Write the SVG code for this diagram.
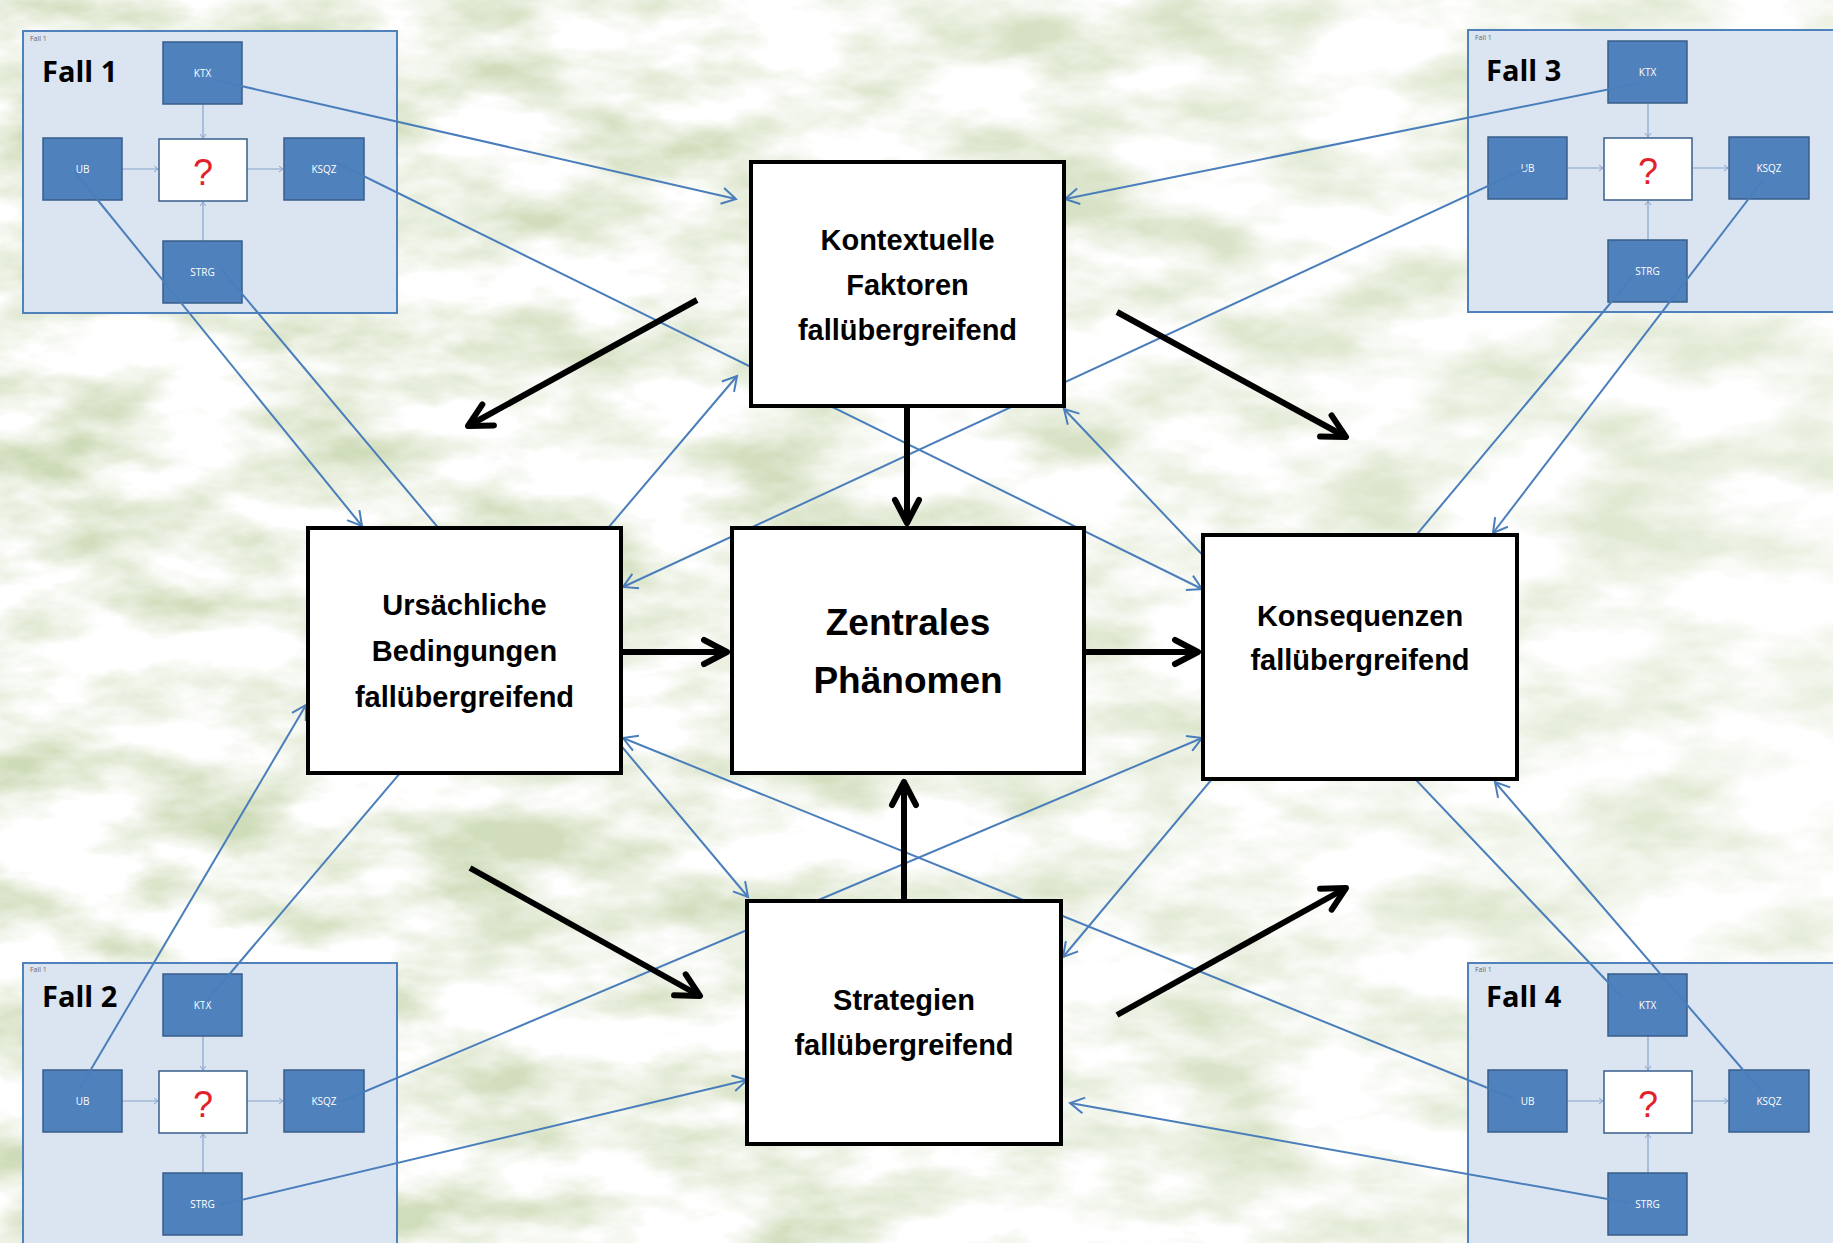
<svg xmlns="http://www.w3.org/2000/svg" width="1833" height="1243" viewBox="0 0 1833 1243">
<style>
.panel{fill:#dbe5f1;stroke:#4f81bd;stroke-width:2}
.sb{fill:#4f81bd;stroke:#385d8a;stroke-width:1.5}
.qb{fill:#ffffff;stroke:#385d8a;stroke-width:1.5}
.sl{font-family:"Open Sans","Liberation Sans",sans-serif;font-size:10px;fill:#ffffff;text-anchor:middle}
.q{font-family:"Liberation Sans",Arial,sans-serif;font-size:36px;fill:#e2222a;text-anchor:middle}
.fb{font-family:"Open Sans","Liberation Sans",sans-serif;font-weight:bold;font-size:29px;fill:#000}
.fs{font-family:"Open Sans","Liberation Sans",sans-serif;font-size:7px;fill:#666}
.il{stroke:#86a3cc;stroke-width:1.2;fill:none;marker-end:url(#ia)}
.main{fill:#ffffff;stroke:#000;stroke-width:4}
.mt{font-family:"Liberation Sans",Arial,sans-serif;font-weight:bold;font-size:29px;fill:#000;text-anchor:middle}
.mz{font-size:37px}
.bl{stroke:#4a7ebb;stroke-width:2;fill:none}
.ar{marker-end:url(#bh2)}
.ba{stroke:#000;stroke-width:6;fill:none;marker-end:url(#bh)}
</style>
<defs>
<filter id="tex" filterUnits="userSpaceOnUse" x="0" y="0" width="1833" height="1243">
<feTurbulence type="fractalNoise" baseFrequency="0.007 0.016" numOctaves="5" seed="7" result="n"/>
<feColorMatrix in="n" type="matrix" values="0 0 0 0 0.62  0 0 0 0 0.71  0 0 0 0 0.48  2.6 0 0 0 -1.0"/>
</filter>
<linearGradient id="fade" x1="0" y1="0" x2="1" y2="0">
<stop offset="0" stop-color="#fff" stop-opacity="0"/>
<stop offset="0.45" stop-color="#fff" stop-opacity="0.1"/>
<stop offset="1" stop-color="#fff" stop-opacity="0.45"/>
</linearGradient>
<marker id="bh" markerUnits="userSpaceOnUse" viewBox="-32 -18 40 36" markerWidth="40" markerHeight="36" refX="0" refY="0" orient="auto" overflow="visible">
<path d="M-23,-12 L0,0 L-23,12" fill="none" stroke="#000" stroke-width="6" stroke-linecap="round" stroke-linejoin="round"/>
</marker>
<marker id="bh2" markerUnits="userSpaceOnUse" viewBox="-18 -10 22 20" markerWidth="22" markerHeight="20" refX="0" refY="0" orient="auto" overflow="visible">
<path d="M-14,-8 L0,0 L-14,8" fill="none" stroke="#4a7ebb" stroke-width="2"/>
</marker>
<marker id="ia" markerUnits="userSpaceOnUse" viewBox="-6 -4 8 8" markerWidth="8" markerHeight="8" refX="0" refY="0" orient="auto" overflow="visible">
<path d="M-4,-3 L0,0 L-4,3" fill="none" stroke="#86a3cc" stroke-width="1"/>
</marker>
</defs>

<rect x="0" y="0" width="1833" height="1243" fill="#ffffff"/>
<rect x="0" y="0" width="1833" height="1243" filter="url(#tex)"/>
<rect x="0" y="0" width="1833" height="1243" fill="url(#fade)"/>

<g id="fall1" transform="translate(23,31)">
<rect class="panel" x="0" y="0" width="374" height="282"/>
<text class="fs" x="7" y="10">Fall 1</text>
<text class="fb" x="19" y="51">Fall 1</text>
<line class="il" x1="180" y1="73" x2="180" y2="107"/>
<line class="il" x1="99" y1="138" x2="135" y2="138"/>
<line class="il" x1="224" y1="138" x2="260" y2="138"/>
<line class="il" x1="180" y1="210" x2="180" y2="171"/>
<rect class="sb" x="140" y="11" width="79" height="62"/>
<rect class="sb" x="20" y="107" width="79" height="62"/>
<rect class="qb" x="136" y="108" width="88" height="62"/>
<rect class="sb" x="261" y="107" width="80" height="62"/>
<rect class="sb" x="140" y="210" width="79" height="62"/>
<text class="sl" x="179.5" y="45.5">KTX</text>
<text class="sl" x="59.5" y="141.5">UB</text>
<text class="sl" x="301" y="141.5">KSQZ</text>
<text class="sl" x="179.5" y="244.5">STRG</text>
<text class="q" x="180" y="154">?</text>
</g>

<g id="fall3" transform="translate(1468,30)">
<rect class="panel" x="0" y="0" width="374" height="282"/>
<text class="fs" x="7" y="10">Fall 1</text>
<text class="fb" x="18" y="51">Fall 3</text>
<line class="il" x1="180" y1="73" x2="180" y2="107"/>
<line class="il" x1="99" y1="138" x2="135" y2="138"/>
<line class="il" x1="224" y1="138" x2="260" y2="138"/>
<line class="il" x1="180" y1="210" x2="180" y2="171"/>
<rect class="sb" x="140" y="11" width="79" height="62"/>
<rect class="sb" x="20" y="107" width="79" height="62"/>
<rect class="qb" x="136" y="108" width="88" height="62"/>
<rect class="sb" x="261" y="107" width="80" height="62"/>
<rect class="sb" x="140" y="210" width="79" height="62"/>
<text class="sl" x="179.5" y="45.5">KTX</text>
<text class="sl" x="59.5" y="141.5">UB</text>
<text class="sl" x="301" y="141.5">KSQZ</text>
<text class="sl" x="179.5" y="244.5">STRG</text>
<text class="q" x="180" y="154">?</text>
</g>

<g id="fall2" transform="translate(23,963)">
<rect class="panel" x="0" y="0" width="374" height="282"/>
<text class="fs" x="7" y="9">Fall 1</text>
<text class="fb" x="19" y="44">Fall 2</text>
<line class="il" x1="180" y1="73" x2="180" y2="107"/>
<line class="il" x1="99" y1="138" x2="135" y2="138"/>
<line class="il" x1="224" y1="138" x2="260" y2="138"/>
<line class="il" x1="180" y1="210" x2="180" y2="171"/>
<rect class="sb" x="140" y="11" width="79" height="62"/>
<rect class="sb" x="20" y="107" width="79" height="62"/>
<rect class="qb" x="136" y="108" width="88" height="62"/>
<rect class="sb" x="261" y="107" width="80" height="62"/>
<rect class="sb" x="140" y="210" width="79" height="62"/>
<text class="sl" x="179.5" y="45.5">KTX</text>
<text class="sl" x="59.5" y="141.5">UB</text>
<text class="sl" x="301" y="141.5">KSQZ</text>
<text class="sl" x="179.5" y="244.5">STRG</text>
<text class="q" x="180" y="154">?</text>
</g>

<g id="fall4" transform="translate(1468,963)">
<rect class="panel" x="0" y="0" width="374" height="282"/>
<text class="fs" x="7" y="9">Fall 1</text>
<text class="fb" x="18" y="44">Fall 4</text>
<line class="il" x1="180" y1="73" x2="180" y2="107"/>
<line class="il" x1="99" y1="138" x2="135" y2="138"/>
<line class="il" x1="224" y1="138" x2="260" y2="138"/>
<line class="il" x1="180" y1="210" x2="180" y2="171"/>
<rect class="sb" x="140" y="11" width="79" height="62"/>
<rect class="sb" x="20" y="107" width="79" height="62"/>
<rect class="qb" x="136" y="108" width="88" height="62"/>
<rect class="sb" x="261" y="107" width="80" height="62"/>
<rect class="sb" x="140" y="210" width="79" height="62"/>
<text class="sl" x="179.5" y="45.5">KTX</text>
<text class="sl" x="59.5" y="141.5">UB</text>
<text class="sl" x="301" y="141.5">KSQZ</text>
<text class="sl" x="179.5" y="244.5">STRG</text>
<text class="q" x="180" y="154">?</text>
</g>

<g id="connectors">
<line class="bl ar" x1="215" y1="80" x2="736" y2="199"/>
<line class="bl ar" x1="335" y1="162" x2="1202" y2="589"/>
<line class="bl ar" x1="75" y1="172" x2="362" y2="526"/>
<line class="bl ar" x1="222" y1="270" x2="748" y2="897"/>
<line class="bl ar" x1="1640" y1="83" x2="1065" y2="199"/>
<line class="bl ar" x1="1527" y1="168" x2="623" y2="587"/>
<line class="bl ar" x1="1634" y1="275" x2="1063" y2="957"/>
<line class="bl ar" x1="1763" y1="180" x2="1493" y2="533"/>
<line class="bl ar" x1="80" y1="1088" x2="306" y2="705"/>
<line class="bl ar" x1="205" y1="1003" x2="737" y2="376"/>
<line class="bl ar" x1="340" y1="1102" x2="1202" y2="738"/>
<line class="bl ar" x1="220" y1="1205" x2="747" y2="1080"/>
<line class="bl ar" x1="1623" y1="998" x2="1064" y2="409"/>
<line class="bl ar" x1="1763" y1="1093" x2="1495" y2="782"/>
<line class="bl ar" x1="1515" y1="1099" x2="623" y2="738"/>
<line class="bl ar" x1="1630" y1="1203" x2="1070" y2="1103"/>
</g>

<g id="kontext">
<rect class="main" x="751" y="162" width="313" height="244"/>
<text class="mt" x="907.5" y="250">Kontextuelle</text>
<text class="mt" x="907.5" y="295">Faktoren</text>
<text class="mt" x="907.5" y="340">fallübergreifend</text>
</g>
<g id="ursachen">
<rect class="main" x="308" y="528" width="313" height="245"/>
<text class="mt" x="464.5" y="615">Ursächliche</text>
<text class="mt" x="464.5" y="661">Bedingungen</text>
<text class="mt" x="464.5" y="707">fallübergreifend</text>
</g>
<g id="zentral">
<rect class="main" x="732" y="528" width="352" height="245"/>
<text class="mt mz" x="908" y="635">Zentrales</text>
<text class="mt mz" x="908" y="693">Phänomen</text>
</g>
<g id="konsequenzen">
<rect class="main" x="1203" y="535" width="314" height="244"/>
<text class="mt" x="1360" y="626">Konsequenzen</text>
<text class="mt" x="1360" y="670">fallübergreifend</text>
</g>
<g id="strategien">
<rect class="main" x="747" y="901" width="314" height="243"/>
<text class="mt" x="904" y="1010">Strategien</text>
<text class="mt" x="904" y="1055">fallübergreifend</text>
</g>

<g id="flow-arrows">
<line class="ba" x1="907" y1="408" x2="907" y2="523"/>
<line class="ba" x1="623" y1="652" x2="727" y2="652"/>
<line class="ba" x1="1086" y1="652" x2="1198" y2="652"/>
<line class="ba" x1="904" y1="899" x2="904" y2="782"/>
<line class="ba" x1="697" y1="300" x2="468" y2="426"/>
<line class="ba" x1="1117" y1="312" x2="1346" y2="437"/>
<line class="ba" x1="470" y1="868" x2="700" y2="996"/>
<line class="ba" x1="1117" y1="1015" x2="1346" y2="888"/>
</g>
</svg>
